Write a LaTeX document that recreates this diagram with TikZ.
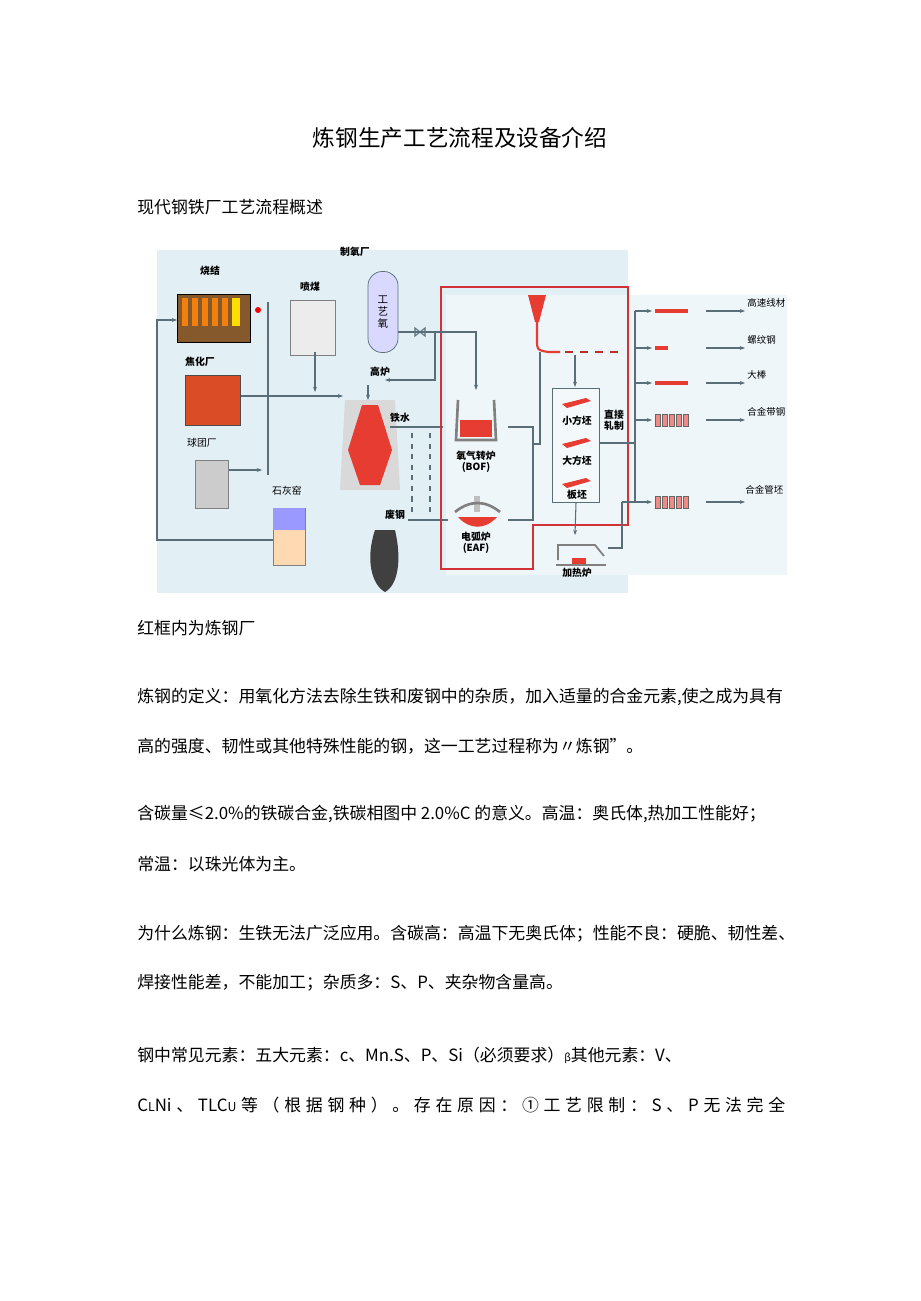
\documentclass[tikz,border=0pt]{standalone}
\usepackage{fontspec}
\setmainfont{Noto Sans CJK SC}
\usetikzlibrary{arrows.meta}
\definecolor{bgblue}{RGB}{226,240,246}
\definecolor{steelred}{RGB}{230,60,50}
\definecolor{framered}{RGB}{210,50,55}
\definecolor{linegray}{RGB}{90,110,120}
\tikzset{
    para/.style={anchor=west, inner sep=0pt, font=\fontsize{9.6}{11}\selectfont},
    lbl/.style={inner sep=0pt, font=\fontsize{5.6}{6.5}\selectfont\bfseries},
    flow/.style={draw=linegray, line width=0.6pt},
    flowarr/.style={flow, -{Stealth[length=3pt]}},
    redpart/.style={fill=steelred, draw=black!70, line width=0.3pt}
}
\begin{document}
\begin{tikzpicture}[x=0.02cm, y=-0.02cm]
            \useasboundingbox[fill=white] (0,0) rectangle (920,1301);
            % page heading
            \node[inner sep=0pt, font=\fontsize{12.9}{14}\selectfont] (title) at (460,138) {炼钢生产工艺流程及设备介绍};
            \node[para] (sub) at (137,207) {现代钢铁厂工艺流程概述};
            % picture background
            \fill[bgblue] (157,250) rectangle (628,593);
            \fill[bgblue!60] (446,295) rectangle (787,575);
            % raw material side
            \node[lbl] (sinterl) at (210,271) {烧结};
            \node[draw=black, fill=brown!70!black, inner sep=0pt, anchor=north west,
                  minimum width=1.46cm, minimum height=0.96cm] (sinter) at (177,294) {};
            \foreach \x in {182,192,...,232}
                \fill[orange!80!brown] (\x,298) rectangle ++(6,28);
            \fill[yellow!80!orange] (232,298) rectangle ++(8,28);
            \fill[red] (258,310) circle (3);
            \node[lbl] (cokel) at (200,362) {焦化厂};
            \node[redpart, fill=brown!60!red, anchor=north west, minimum width=1.1cm, minimum height=1.0cm] (coke) at (185,375) {};
            \node[lbl, font=\fontsize{5.6}{6.5}\selectfont] (pelletl) at (202,443) {球团厂};
            \node[draw=gray, fill=gray!40, anchor=north west, minimum width=0.66cm, minimum height=0.96cm] (pellet) at (195,460) {};
            \node[lbl] (coall) at (310,287) {喷煤};
            \node[draw=gray, fill=gray!15, anchor=north west, minimum width=0.9cm, minimum height=1.1cm] (coal) at (290,300) {};
            \node[lbl, font=\fontsize{5.6}{6.5}\selectfont] (limel) at (287,491) {石灰窑};
            \node[draw=gray, fill=orange!30, anchor=north west, minimum width=0.64cm, minimum height=1.14cm] (lime) at (273,508) {};
            \fill[blue!40] (273,508) rectangle (305,530);
            % oxygen plant
            \node[lbl] (o2l) at (355,252) {制氧厂};
            \node[draw=linegray, fill=blue!15, rounded corners=0.28cm, minimum width=0.6cm, minimum height=1.62cm,
                  lbl, font=\fontsize{6}{7}\selectfont, align=center] (tank) at (383,312) {工\\艺\\氧};
            \coordinate (valve) at (420,332);
            \draw[flow] (tank.east |- valve) -- (valve);
            \draw[flow] (valve) ++(-5,-4) -- ++(10,8) -- ++(0,-8) -- ++(-10,8) -- cycle;
            % blast furnace
            \node[lbl] (bfl) at (380,372) {高炉};
            \fill[gray!30] (345,400) -- (395,400) -- (400,490) -- (340,490) -- cycle;
            \fill[steelred] (362,405) -- (378,405) -- (392,450) -- (380,485) -- (360,485) -- (348,450) -- cycle;
            \coordinate (bf) at (368,400);
            \node[lbl] (hotl) at (400,418) {铁水};
            \node[lbl] (scrapl) at (395,515) {废钢};
            \fill[black!75] (375,530) .. controls (365,560) and (372,585) .. (385,592) .. controls (398,585) and (402,560) .. (395,530) -- cycle;
            % connectors on the left
            \draw[flow] (268,302) -- (268,475);
            \draw[flowarr] (coke.east |- 0,396) -- (343,396);
            \draw[flowarr] (pellet.east |- 0,470) -- (262,470);
            \draw[flowarr] (315,352) -- (315,392);
            \draw[flowarr] (lime.west |- 0,540) -- (157,540) -- (157,320) -- (sinter.west |- 0,320);
            \draw[flowarr] (valve) -- (435,332) -- (435,380) -- (385,380);
            \draw[flowarr] (368,385) -- (bf);
            \draw[flow] (390,427) -- (443,427);
            \draw[flow, dashed] (412,433) -- (412,515);
            \draw[flow, dashed] (430,433) -- (430,515);
            \draw[flow] (408,520) -- (448,520);
            % steel plant
            \draw[framered, line width=1.3pt] (441,287) -- (628,287) -- (628,525) -- (533,525) -- (533,569) -- (441,569) -- cycle;
            \draw[flowarr] (430,332) -- (476,332) -- (476,390);
            \draw[draw=gray, line width=1.5pt] (458,400) -- (456,440) -- (496,440) -- (494,400);
            \fill[steelred] (460,420) -- (492,420) -- (492,437) -- (460,437) -- cycle;
            \node[lbl, align=center] (bof) at (476,462) {氧气转炉\\(BOF)};
            \fill[gray!50] (474,496) rectangle (480,512);
            \draw[draw=gray, line width=1.5pt] (455,512) .. controls (470,500) and (485,500) .. (500,512);
            \fill[steelred] (458,517) .. controls (470,530) and (485,530) .. (497,517) -- cycle;
            \node[lbl, align=center] (eaf) at (476,543) {电弧炉\\(EAF)};
            \draw[flow] (508,427) -- (533,427) -- (533,520) -- (508,520);
            \draw[flow] (533,444) -- (540,444) -- (540,352);
            % caster and billets
            \fill[steelred] (528,295) -- (546,295) -- (539,322) -- (535,322) -- cycle;
            \draw[steelred, line width=1.2pt] (537,322) -- (537,340) .. controls (537,350) .. (548,352) -- (560,352);
            \foreach \x in {565,580,595,610}
                \draw[steelred!80!black, line width=1.2pt] (\x,352) -- ++(8,0);
            \draw[flowarr] (575,355) -- (575,387);
            \node[draw=linegray, fill=white!60!bgblue, anchor=north, minimum width=0.94cm, minimum height=2.28cm] (billet) at (576,388) {};
            \foreach \y in {398,438,478}
                \fill[steelred] (562,\y+6) -- (586,\y) -- (591,\y+3) -- (567,\y+10) -- cycle;
            \node[lbl] (small) at (577,421) {小方坯};
            \node[lbl] (big) at (577,461) {大方坯};
            \node[lbl] (slab) at (577,495) {板坯};
            \node[lbl, align=center] (direct) at (614,420) {直接\\轧制};
            \draw[flowarr] (billet.south) -- (575,535);
            \node[lbl] (heatl) at (577,573) {加热炉};
            \draw[draw=gray, line width=1pt] (558,560) -- (558,545) -- (595,545) -- (604,556);
            \draw[draw=gray, line width=1pt] (556,565) -- (606,565);
            \fill[steelred] (572,558) rectangle (586,564);
            % rolling mills
            \draw[flow] (608,548) -- (622,548) -- (622,502);
            \draw[flow] (billet.east |- 0,443) -- (635,443);
            \draw[flow] (635,311) -- (635,502);
            \foreach \y/\txt in {311/高速线材, 348/螺纹钢, 383/大棒, 420/合金带钢}
            {
                \draw[flowarr] (635,\y) -- (652,\y);
                \draw[flowarr] (706,\y) -- (745,\y);
                \node[lbl, font=\fontsize{5.4}{6}\selectfont, anchor=west] at (747,\y-8) {\txt};
            }
            \draw[flowarr] (622,502) -- (652,502);
            \draw[flowarr] (706,502) -- (745,502);
            \node[lbl, font=\fontsize{5.4}{6}\selectfont, anchor=west] (tubel) at (745,490) {合金管坯};
            \foreach \y in {311,383}
                \fill[steelred] (655,\y-2) rectangle (688,\y+2);
            \fill[steelred] (655,346) rectangle (668,350);
            \foreach \y in {420,502}
                \foreach \x in {655,662,...,683}
                    \draw[fill=steelred!60, draw=black!60] (\x,\y-6) rectangle ++(5,12);
            % text below the picture
            \node[para] (note) at (137,628) {红框内为炼钢厂};
            \node[para] (l1) at (137,697) {炼钢的定义：用氧化方法去除生铁和废钢中的杂质，加入适量的合金元素,使之成为具有};
            \node[para] (l2) at (137,746) {高的强度、韧性或其他特殊性能的钢，这一工艺过程称为〃炼钢”。};
            \node[para] (l3) at (137,814) {含碳量≤2.0\%的铁碳合金,铁碳相图中 2.0\%C 的意义。高温：奥氏体,热加工性能好；};
            \node[para] (l4) at (137,864) {常温：以珠光体为主。};
            \node[para] (l5) at (137,934) {为什么炼钢：生铁无法广泛应用。含碳高：高温下无奥氏体；性能不良：硬脆、韧性差、};
            \node[para] (l6) at (137,983) {焊接性能差，不能加工；杂质多：S、P、夹杂物含量高。};
            \node[para] (l7) at (137,1055) {钢中常见元素：五大元素：c、Mn.S、P、Si（必须要求）{\fontsize{6}{7}\selectfont β}其他元素：V、};
            \node[para] (l8) at (137,1105) {\hbox to 12.96cm{C{\fontsize{7}{8}\selectfont L}Ni\hfill 、\hfill TLC{\fontsize{7}{8}\selectfont U}\hfill 等\hfill （\hfill 根\hfill 据\hfill 钢\hfill 种\hfill ）\hfill 。\hfill 存\hfill 在\hfill 原\hfill 因\hfill ：\hfill ①\hfill 工\hfill 艺\hfill 限\hfill 制\hfill ：\hfill S\hfill 、\hfill P\hfill 无\hfill 法\hfill 完\hfill 全}};
        \end{tikzpicture}
\end{document}
